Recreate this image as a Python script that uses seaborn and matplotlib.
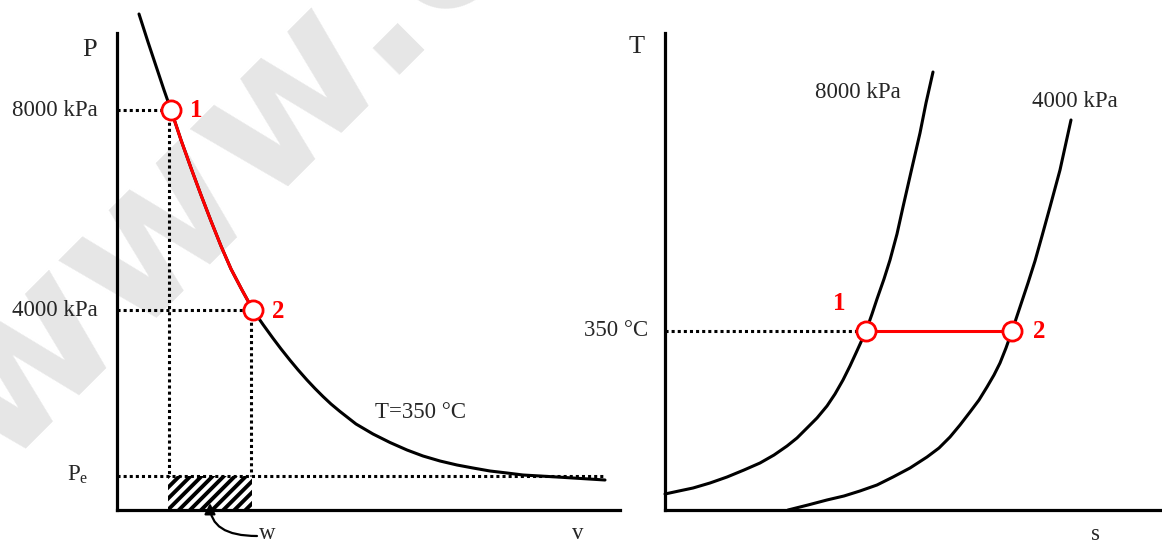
import numpy as np
import pandas as pd
import matplotlib
matplotlib.use("Agg")
import matplotlib.pyplot as plt
import seaborn as sns

# ---------------- data ----------------
# P-v diagram, isotherm T = 350 °C  (v in relative units, P in kPa)
iso_v = [22, 31, 40, 47, 54, 64, 74, 84, 94, 104, 114, 125, 136, 146, 156, 164,
         173, 181, 190, 198, 206, 214, 223, 239, 256, 273, 290, 306, 323, 340,
         356, 373, 390, 406, 423, 440, 456, 472, 488]
iso_P = [9920, 9360, 8820, 8400, 8000, 7400, 6840, 6300, 5780, 5280, 4820, 4400,
         4000, 3710, 3434, 3222, 2996, 2804, 2600, 2430, 2270, 2120, 1970, 1720,
         1520, 1350, 1200, 1080, 980, 900, 840, 780, 740, 700, 680, 660, 640,
         620, 600]
state_v = [54, 136]             # states 1, 2
state_P = [8000, 4000]
P_e = 680
v_end = 488
p_labels = ["8000 kPa", "4000 kPa"]

# T-s diagram, isobars (s in relative units, T in °C)
s_8000 = [0, 14, 28, 45, 62, 79, 95, 109, 122, 132, 142, 152, 162, 170, 178,
          185, 191, 196, 201, 207, 212, 219, 225, 232, 238, 246, 255, 261, 268]
T_8000 = [31.3, 37.2, 43.0, 52.8, 64.5, 78.2, 91.9, 107.5, 125.1, 140.8, 160.3,
          179.9, 203.4, 226.8, 254.2, 281.6, 307.0, 328.5, 350.0, 383.2, 412.6,
          451.7, 488.8, 539.7, 592.5, 660.9, 737.1, 795.8, 856.4]
s_4000 = [123, 143, 162, 179, 195, 212, 228, 245, 262, 274, 285, 295, 305, 314,
          322, 329, 335, 341, 347, 355, 363, 370, 377, 385, 395, 406]
T_4000 = [0, 9.8, 19.6, 27.4, 37.2, 48.9, 64.5, 82.1, 103.6, 121.2, 142.7, 166.2,
          191.6, 215.1, 240.5, 264.0, 287.4, 316.8, 350.0, 396.9, 443.9, 486.9,
          535.7, 592.5, 664.8, 762.6]
state_s = [201, 347]
state_T = [350, 350]
T_label = "350 °C"

# ---------------- style ----------------
sns.set_theme(style="white")
plt.rcParams["font.family"] = ["Liberation Serif", "DejaVu Serif"]
plt.rcParams["mathtext.fontset"] = "custom"
plt.rcParams["mathtext.rm"] = "Liberation Serif"
plt.rcParams["hatch.linewidth"] = 2.8

W, H = 1162, 544
fig = plt.figure(figsize=(W / 100, H / 100), dpi=100)
fig.patch.set_facecolor("white")

# watermark
fig.text(-1 / W, 1 - 469 / H, "www.c", rotation=45, rotation_mode="anchor",
         ha="left", va="baseline", fontsize=145, fontweight="bold",
         family="DejaVu Sans", color="#e6e6e6", zorder=-5)

axL = fig.add_axes([117 / W, 34 / H, 503 / W, 510 / H])
axR = fig.add_axes([665 / W, 34 / H, 497 / W, 510 / H])
Tk = 350 / 179
axL.set_xlim(0, 503)
axL.set_ylim(0, 10200)
axR.set_xlim(0, 497)
axR.set_ylim(0, 510 * Tk)

for ax, top in ((axL, 9540), (axR, 477 * Tk)):
    ax.patch.set_alpha(0)
    ax.set_xticks([])
    ax.set_yticks([])
    for side in ("top", "right"):
        ax.spines[side].set_visible(False)
    for side in ("left", "bottom"):
        ax.spines[side].set_color("black")
        ax.spines[side].set_linewidth(2.3)
    ax.spines["left"].set_bounds(0, top)

dot = dict(color="black", lw=2.2, linestyle=(0, (1, 1)), zorder=2)
LW = 2.2
red = "#ff0000"
fs = 16.5

# ---------------- P-v diagram ----------------
v1, v2 = state_v
P1, P2 = state_P
axL.plot([0, v1], [P1, P1], **dot)
axL.plot([0, v2], [P2, P2], **dot)
axL.plot([0, v_end], [P_e, P_e], **dot)
axL.plot([v1 - 2, v1 - 2], [P1, P_e], **dot)
axL.plot([v2 - 2, v2 - 2], [P2, P_e], **dot)
axL.fill_between([v1 - 3, v2 - 1], 0, P_e, facecolor="none", edgecolor="black",
                 hatch="///", linewidth=0, zorder=1)

iso = pd.DataFrame({"v": iso_v, "P": iso_P})
sns.lineplot(data=iso, x="v", y="P", sort=False, estimator=None, color="black",
             lw=LW, ax=axL, zorder=3, clip_on=False)
seg = iso[(iso.v >= v1) & (iso.v <= v2)]
sns.lineplot(data=seg, x="v", y="P", sort=False, estimator=None, color=red,
             lw=LW, ax=axL, zorder=4)
sns.scatterplot(x=state_v, y=state_P, ax=axL, marker="o", s=190, facecolor="white",
                edgecolor=red, linewidth=2.0, zorder=5, clip_on=False)

axL.text(-20, 9200, "P", ha="right", va="center", fontsize=19)
axL.text(-19, P1, p_labels[0], ha="right", va="center", fontsize=fs)
axL.text(-19, P2, p_labels[1], ha="right", va="center", fontsize=fs)
axL.text(-29, 700, r"P$_\mathrm{e}$", ha="right", va="center", fontsize=fs)
axL.text(73, P1, "1", ha="left", va="center", fontsize=18, fontweight="bold", color=red)
axL.text(155, 3980, "2", ha="left", va="center", fontsize=18, fontweight="bold", color=red)
axL.text(258, 1940, "T=350 °C", ha="left", va="center", fontsize=fs)
axL.text(150, -580, "w", ha="center", va="baseline", fontsize=fs, clip_on=False)
axL.text(461, -580, "v", ha="center", va="baseline", fontsize=fs, clip_on=False)
axL.annotate("", xy=(93, 140), xytext=(140, -520),
             arrowprops=dict(arrowstyle="-|>", color="black", lw=1.6,
                             connectionstyle="angle3,angleA=0,angleB=90",
                             mutation_scale=16, shrinkA=0, shrinkB=0),
             annotation_clip=False)

# ---------------- T-s diagram ----------------
s1, s2 = state_s
axR.plot([0, s1], [state_T[0], state_T[0]], **dot)
ts = pd.concat([pd.DataFrame({"s": s_8000, "T": T_8000, "P": "8000"}),
                pd.DataFrame({"s": s_4000, "T": T_4000, "P": "4000"})])
sns.lineplot(data=ts, x="s", y="T", units="P", sort=False, estimator=None,
             color="black", lw=LW, ax=axR, zorder=3, clip_on=False)
axR.plot(state_s, state_T, color=red, lw=LW, zorder=4)
sns.scatterplot(x=state_s, y=state_T, ax=axR, marker="o", s=190, facecolor="white",
                edgecolor=red, linewidth=2.0, zorder=5)

axR.text(-20, 463 * Tk, "T", ha="right", va="center", fontsize=19)
axR.text(-17, 350, T_label, ha="right", va="center", fontsize=fs)
axR.text(193, 418 * Tk, p_labels[0], ha="center", va="center", fontsize=fs)
axR.text(410, 409 * Tk, p_labels[1], ha="center", va="center", fontsize=fs)
axR.text(174, 207 * Tk, "1", ha="center", va="center", fontsize=18, fontweight="bold", color=red)
axR.text(374, 178 * Tk, "2", ha="center", va="center", fontsize=18, fontweight="bold", color=red)
axR.text(431, -30 * Tk, "s", ha="center", va="baseline", fontsize=fs, clip_on=False)

for ax in (axL, axR):
    ax.set_xlabel("")
    ax.set_ylabel("")
fig.savefig("out.png", dpi=100)
